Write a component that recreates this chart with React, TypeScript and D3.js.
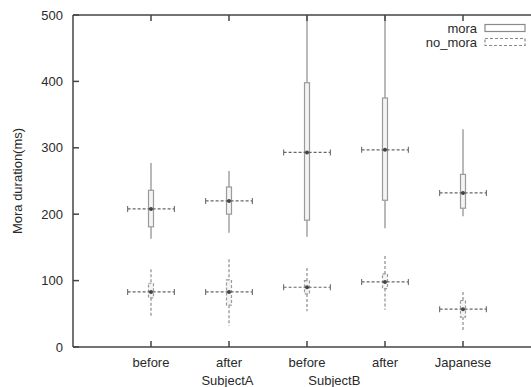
import * as d3 from "d3"

const categories = ["before", "after", "before", "after", "Japanese"]
const subjects = [
    { label: "SubjectA", pos: 1.98 },
    { label: "SubjectB", pos: 3.35 },
]
const yTicks = [0, 100, 200, 300, 400, 500]

// mora
const moraLow = [163, 172, 166, 179, 197]
const moraQ1 = [181, 200, 191, 221, 209]
const moraMean = [208, 220, 293, 297, 232]
const moraQ3 = [236, 241, 398, 375, 260]
const moraHigh = [277, 265, 540, 540, 328]

// no_mora
const noMoraLow = [45, 32, 54, 56, 23]
const noMoraQ1 = [74, 63, 80, 88, 45]
const noMoraMean = [83, 83, 90, 98, 57]
const noMoraQ3 = [96, 101, 100, 110, 70]
const noMoraHigh = [117, 132, 119, 137, 83]

const xErr = 0.3

const W = 531
const H = 387
const left = 73
const right = 541
const top = 15
const bottom = 347
const font = "'Liberation Sans', Arial, sans-serif"
const textColor = "#2a2a2a"

export default function App() {
    const x = d3.scaleLinear().domain([0, 6]).range([left, right])
    const y = d3.scaleLinear().domain([0, 500]).range([bottom, top])

    const series = [
        { name: "mora", low: moraLow, q1: moraQ1, mean: moraMean, q3: moraQ3, high: moraHigh, dash: undefined },
        { name: "no_mora", low: noMoraLow, q1: noMoraQ1, mean: noMoraMean, q3: noMoraQ3, high: noMoraHigh, dash: "3,2" },
    ]
    const boxW = 5

    return (
        <div style={{ position: "absolute", left: 0, top: 0 }}>
            <svg width={W} height={H} style={{ display: "block", background: "#fff" }}>
                <defs>
                    <clipPath id="plot">
                        <rect x={left} y={top} width={right - left} height={bottom - top} />
                    </clipPath>
                </defs>

                <g clipPath="url(#plot)">
                    {series.map(s => (
                        <g key={s.name}>
                            {categories.map((c, i) => {
                                const cx = x(i + 1)
                                return (
                                    <g key={i}>
                                        <line x1={cx} x2={cx} y1={y(s.high[i])} y2={y(s.q3[i])}
                                            stroke="#a8a8a8" strokeWidth={1.6} strokeDasharray={s.dash} />
                                        <line x1={cx} x2={cx} y1={y(s.q1[i])} y2={y(s.low[i])}
                                            stroke="#a8a8a8" strokeWidth={1.6} strokeDasharray={s.dash} />
                                        <rect x={cx - boxW / 2} y={y(s.q3[i])} width={boxW}
                                            height={y(s.q1[i]) - y(s.q3[i])}
                                            fill="#f4f4f4" stroke="#9a9a9a" strokeWidth={1.2} strokeDasharray={s.dash} />
                                    </g>
                                )
                            })}
                        </g>
                    ))}
                    {series.map(s => (
                        <g key={s.name + "-err"}>
                            {categories.map((c, i) => {
                                const cy = y(s.mean[i])
                                const x0 = x(i + 1 - xErr)
                                const x1 = x(i + 1 + xErr)
                                return (
                                    <g key={i}>
                                        <line x1={x0} x2={x1} y1={cy} y2={cy}
                                            stroke="#666" strokeWidth={1.2} strokeDasharray="3,2" />
                                        <line x1={x0} x2={x0} y1={cy - 3} y2={cy + 3} stroke="#777" strokeWidth={1.2} />
                                        <line x1={x1} x2={x1} y1={cy - 3} y2={cy + 3} stroke="#777" strokeWidth={1.2} />
                                        <circle cx={x(i + 1)} cy={cy} r={2} fill="#444" />
                                    </g>
                                )
                            })}
                        </g>
                    ))}
                </g>

                {/* frame */}
                <line x1={left} x2={left} y1={top} y2={bottom} stroke="#444" strokeWidth={1.5} />
                <line x1={left} x2={right} y1={bottom} y2={bottom} stroke="#444" strokeWidth={1.5} />
                <line x1={left} x2={right} y1={top} y2={top} stroke="#444" strokeWidth={1.5} />

                {yTicks.map(t => (
                    <g key={t}>
                        <line x1={left} x2={left + 6} y1={y(t)} y2={y(t)} stroke="#444" strokeWidth={1.5} />
                        <text x={63} y={y(t)} dy="0.35em" textAnchor="end"
                            fontFamily={font} fontSize={13} fill={textColor}>{t}</text>
                    </g>
                ))}

                {categories.map((c, i) => (
                    <g key={i}>
                        <line x1={x(i + 1)} x2={x(i + 1)} y1={bottom} y2={bottom - 6} stroke="#444" strokeWidth={1.5} />
                        <line x1={x(i + 1)} x2={x(i + 1)} y1={top} y2={top + 6} stroke="#444" strokeWidth={1.5} />
                        <text x={x(i + 1)} y={367} textAnchor="middle"
                            fontFamily={font} fontSize={13} fill={textColor}>{c}</text>
                    </g>
                ))}

                {subjects.map(s => (
                    <text key={s.label} x={x(s.pos)} y={385} textAnchor="middle"
                        fontFamily={font} fontSize={13} fill={textColor}>{s.label}</text>
                ))}

                <text transform={`translate(22,${(top + bottom) / 2}) rotate(-90)`} textAnchor="middle"
                    fontFamily={font} fontSize={13} fill={textColor}>Mora duration(ms)</text>

                {/* legend */}
                {series.map((s, i) => (
                    <g key={s.name + "-leg"} transform={`translate(0,${28 + i * 14})`}>
                        <text x={477} y={0} dy="0.35em" textAnchor="end"
                            fontFamily={font} fontSize={13} fill={textColor}>{s.name}</text>
                        <rect x={485} y={-3.5} width={40} height={7} fill="#fff"
                            stroke="#8a8a8a" strokeWidth={1.2} strokeDasharray={s.dash} />
                    </g>
                ))}
            </svg>
        </div>
    )
}
